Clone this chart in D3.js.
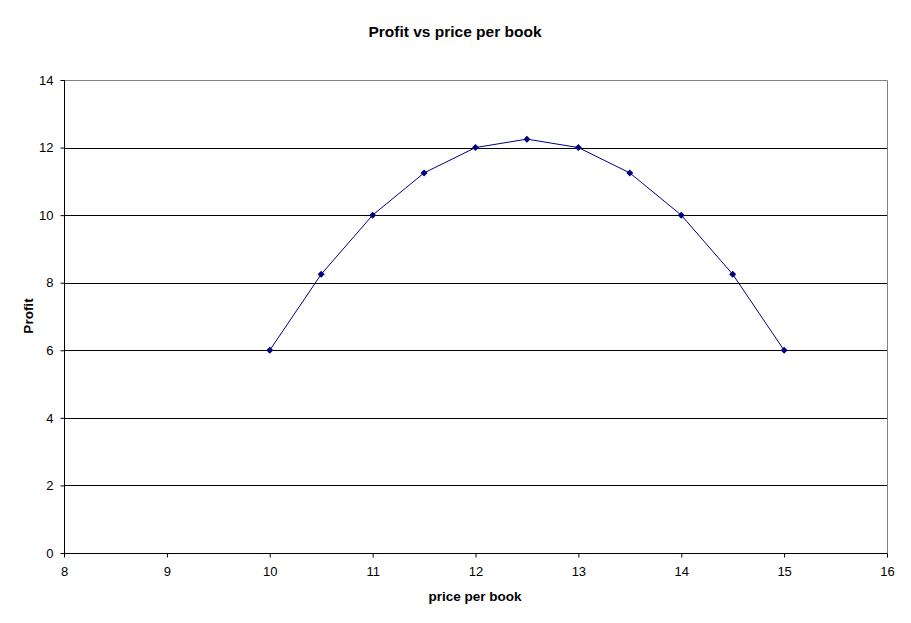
<!DOCTYPE html>
<html><head><meta charset="utf-8">
<script src="https://cdn.jsdelivr.net/npm/d3@7"></script>
<style>body{margin:0;background:#fff}svg{display:block}text{font-family:"Liberation Sans",Arial,sans-serif}</style>
</head><body>
<script>
const prices = [10, 10.5, 11, 11.5, 12, 12.5, 13, 13.5, 14, 14.5, 15];
const profits = [6, 8.25, 10, 11.25, 12, 12.25, 12, 11.25, 10, 8.25, 6];
const xTicks = [8, 9, 10, 11, 12, 13, 14, 15, 16];
const yTicks = [0, 2, 4, 6, 8, 10, 12, 14];
const title = "Profit vs price per book";
const xTitle = "price per book";
const yTitle = "Profit";

const W = 911, H = 623;
const L = 64, R = 887, T = 80, B = 553;
const svg = d3.select("body").append("svg").attr("width", W).attr("height", H);
const x = d3.scaleLinear().domain([8, 16]).range([L, R]);
const y = d3.scaleLinear().domain([0, 14]).range([B, T]);

svg.append("g").selectAll("line").data(yTicks.filter(v => v > 0 && v < 14)).join("line")
  .attr("x1", L).attr("x2", R).attr("y1", d => Math.round(y(d)) + 0.5).attr("y2", d => Math.round(y(d)) + 0.5)
  .attr("stroke", "#000").attr("stroke-width", 1);
svg.append("path").attr("d", `M${L},${T + 0.5}H${R + 0.5}V${B}`).attr("fill", "none").attr("stroke", "#808080");

const xAxis = d3.axisBottom(x).tickValues(xTicks).tickSize(4).tickPadding(9).tickFormat(d3.format("d"));
const gx = svg.append("g").attr("transform", `translate(0,${B + 0.5})`).call(xAxis);
const yAxis = d3.axisLeft(y).tickValues(yTicks).tickSize(4).tickPadding(7).tickFormat(d3.format("d"));
const gy = svg.append("g").attr("transform", `translate(${L + 0.5},0)`).call(yAxis);
[gx, gy].forEach(g => {
  g.select(".domain").attr("stroke", "#000");
  g.selectAll(".tick line").attr("stroke", "#000");
  g.selectAll("text").attr("font-size", 13).attr("fill", "#000").attr("font-family", "Liberation Sans, Arial, sans-serif");
});
gx.select(".domain").attr("d", `M${L},0H${R + 0.5}`);
gy.select(".domain").attr("d", `M0,${T}V${B}`);

const pts = prices.map((p, i) => [p, profits[i]]);
svg.append("path").datum(pts)
  .attr("d", d3.line().x(d => x(d[0])).y(d => y(d[1])))
  .attr("fill", "none").attr("stroke", "#000080").attr("stroke-width", 1);
svg.append("g").selectAll("path").data(pts).join("path")
  .attr("transform", d => `translate(${x(d[0])},${y(d[1])})`)
  .attr("d", "M0,-3.5L3.5,0L0,3.5L-3.5,0Z")
  .attr("fill", "#000080");

svg.append("text").attr("x", 455).attr("y", 37).attr("text-anchor", "middle")
  .attr("font-size", 15.5).attr("font-weight", "bold").text(title);
svg.append("text").attr("x", 475).attr("y", 601).attr("text-anchor", "middle")
  .attr("font-size", 13.5).attr("font-weight", "bold").text(xTitle);
svg.append("text").attr("transform", "translate(33,316) rotate(-90)").attr("text-anchor", "middle")
  .attr("font-size", 13.5).attr("font-weight", "bold").text(yTitle);
</script>
</body></html>
